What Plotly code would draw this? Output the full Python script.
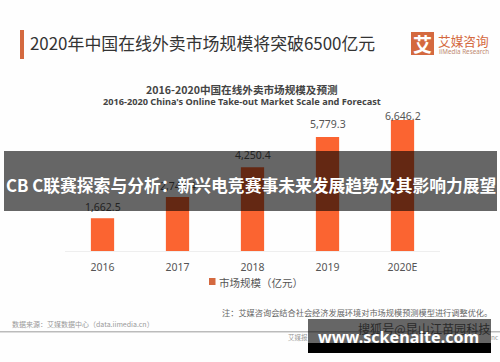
import plotly.graph_objects as go

W, H = 500, 362
categories = ["2016", "2017", "2018", "2019", "2020E"]
values = [1662.5, 2743.4, 4250.4, 5779.3, 6646.2]
value_labels = ["1,662.5", "2,743.4", "4,250.4", "5,779.3", "6,646.2"]
series_name = "市场规模（亿元）"
CJK = "Noto Sans CJK SC"
ORANGE = "#FB6431"
BRAND = "#D4693F"
label_gaps = [11, 11, 12, 13, 4]
label_colors = ["#222222", "#222222", "#222222", "#555555", "#555555"]


def px(x):
    return x / W


def py(y):
    return 1 - y / H


def rect(x0, y0, x1, y1, color, layer="above"):
    return dict(type="rect", xref="paper", yref="paper", x0=px(x0), x1=px(x1), y0=py(y0), y1=py(y1),
                fillcolor=color, line=dict(width=0), layer=layer)


def note(x, y, text, size, color, anchor="left", font=CJK):
    return dict(xref="paper", yref="paper", x=px(x), y=py(y), text=text, showarrow=False, xanchor=anchor,
                yanchor="middle", font=dict(size=size, color=color, family=font), borderpad=0, borderwidth=0)


value_notes = [
    dict(x=i, y=v, xref="x", yref="y", text=t, showarrow=False, yshift=g, yanchor="middle",
         font=dict(size=10.5, color=col, family="Noto Sans"))
    for i, (v, t, g, col) in enumerate(zip(values, value_labels, label_gaps, label_colors))
]

fig = go.Figure(go.Bar(
    x=categories, y=values, name=series_name, width=0.31, marker=dict(color=ORANGE, line=dict(width=0)),
    cliponaxis=False, showlegend=False,
))

fig.update_layout(
    width=W, height=H, autosize=False, margin=dict(l=0, r=0, t=0, b=0),
    paper_bgcolor="#FEFEFE", plot_bgcolor="rgba(0,0,0,0)",
    xaxis=dict(domain=[px(65), px(440)], type="category", categoryorder="array", categoryarray=categories,
               range=[-0.5, 4.5], showline=True, linecolor="#EEEEEE", linewidth=1,
               ticks="", ticklabelstandoff=6, tickfont=dict(size=10.5, color="#555555", family="Noto Sans"),
               showgrid=False, fixedrange=True),
    yaxis=dict(domain=[py(251), py(113)], range=[0, 7000], visible=False, fixedrange=True),
    shapes=[
        rect(20, 30, 24, 59, BRAND, "below"),
        rect(411, 32, 434, 55, BRAND, "below"),
        rect(0, 331, 500, 332.5, "#BBBBBB", "below"),
        rect(209, 278, 215.5, 285, BRAND, "below"),
        rect(4, 151, 497, 211, "rgba(0,0,0,0.6)"),
        rect(308, 319, 491, 343, "rgba(0,0,0,0.6)"),
        rect(308, 343, 491, 353, "#000000"),
    ],
    annotations=value_notes + [
        note(30, 43, "2020年中国在线外卖市场规模将突破6500亿元", 16.9, "#333333"),
        note(422.5, 43.5, "<b>艾</b>", 19, "#FFFFFF", "center"),
        note(438, 41, "艾媒咨询", 12.7, BRAND),
        note(439, 51, "iiMedia Research", 6.3, "#C08A72", font="Noto Sans"),
        note(242, 89, "<b>2016-2020中国在线外卖市场规模及预测</b>", 10.6, "#444444", "center"),
        note(242, 101, "<b>2016-2020 China's Online Take-out Market Scale and Forecast</b>", 9.2, "#444444",
             "center", "Noto Sans"),
        note(219, 282, series_name, 10.5, "#555555"),
        note(222, 312, "注：艾媒咨询会结合社会经济发展环境对市场规模预测模型进行调整优化。", 8.2, "#666666"),
        note(12, 324, "数据来源：艾媒数据中心（data.iimedia.cn）", 7, "#999999"),
        note(308, 337, "艾媒报", 6.5, "#999999", "right"),
        note(491, 337, "nc", 6.5, "#999999"),
        note(423.5, 328, "搜狐号@昆山江苗园科技", 12.1, "#2A2A2A", "center"),
        note(250.5, 185, "<b>CB C联赛探索与分析：新兴电竞赛事未来发展趋势及其影响力展望</b>", 16.8, "#FFFFFF", "center"),
        note(398.5, 337, "<b>www.sckenaite.com</b>", 16.1, "#FFFFFF", "center", "Noto Sans"),
    ],
)

fig.write_html("out.html", config={"displayModeBar": False},
               post_script="document.body.style.margin='0';document.body.style.overflow='hidden';")
